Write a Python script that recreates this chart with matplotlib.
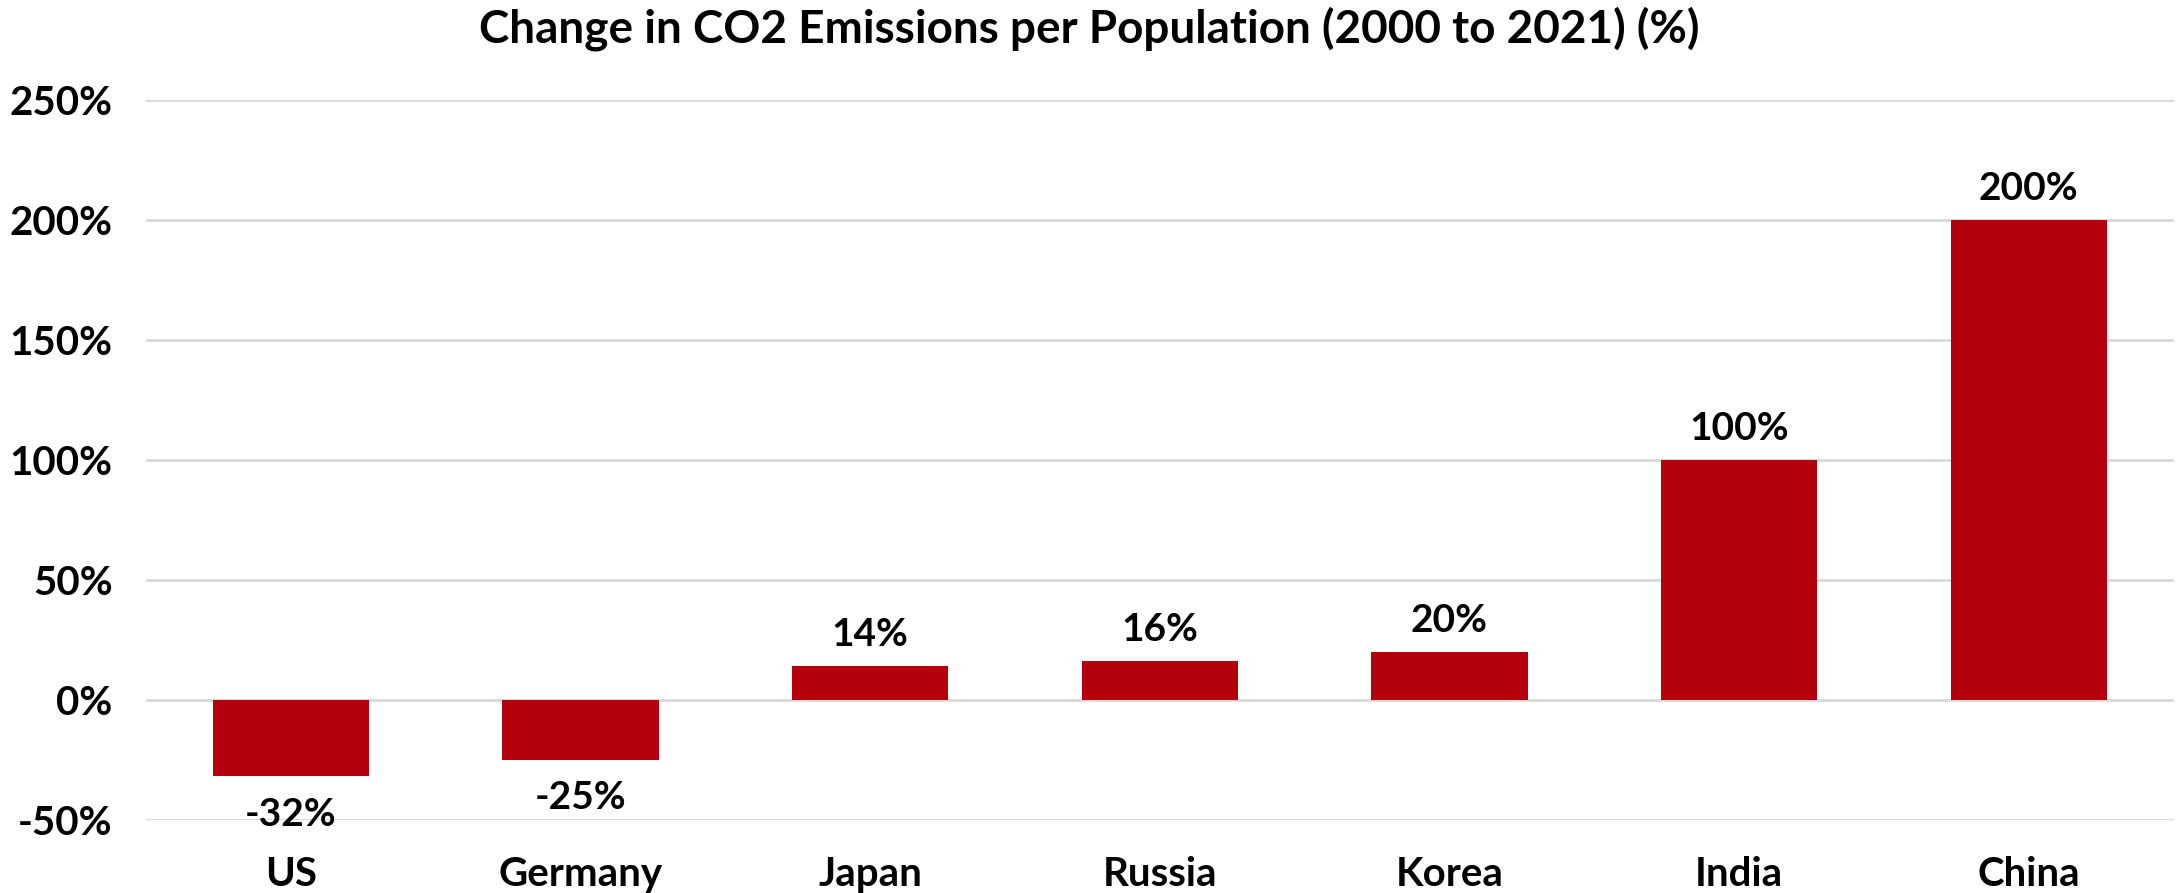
import matplotlib
matplotlib.use('Agg')
import matplotlib.pyplot as plt
import numpy as np

countries = ['US', 'Germany', 'Japan', 'Russia', 'Korea', 'India', 'China']
change_pct = [-32, -25, 14, 16, 20, 100, 200]
yticks = [-50, 0, 50, 100, 150, 200, 250]

bar_color = '#B3000C'
plt.rcParams['font.family'] = ['Lato', 'DejaVu Sans']
plt.rcParams['font.weight'] = 'bold'

fig = plt.figure(figsize=(21.78, 8.93), dpi=100)
ax = fig.add_axes([0.067, 0.0823, 0.931, 0.8057])

x = np.arange(len(countries))
bars = ax.bar(x, change_pct, width=0.54, color=bar_color, zorder=3)

# data labels above positive bars, below negative ones
for xi, v in zip(x, change_pct):
    off = 10 if v >= 0 else -15
    ax.annotate('{}%'.format(v), (xi, v), xytext=(0, off), textcoords='offset points',
                ha='center', va='bottom' if v >= 0 else 'top',
                fontsize=28, fontweight='bold')

ax.set_xlim(-0.5, len(countries) - 0.5)
ax.set_ylim(-50, 250)
ax.set_yticks(yticks)
ax.set_yticklabels(['{}%'.format(t) for t in yticks])
ax.set_xticks(x)
ax.set_xticklabels(countries)
ax.tick_params(axis='both', length=0, labelsize=29)
ax.tick_params(axis='y', pad=24)
ax.tick_params(axis='x', pad=26)
for lab in ax.get_xticklabels() + ax.get_yticklabels():
    lab.set_fontweight('bold')

ax.grid(axis='y', color='#D9D9D9', linewidth=2, zorder=0)
for s in ax.spines.values():
    s.set_visible(False)

fig.text(0.5, 0.968, 'Change in CO2 Emissions per Population (2000 to 2021) (%)',
         ha='center', va='center', fontsize=33, fontweight='bold')

fig.savefig('out.png', dpi=100)
